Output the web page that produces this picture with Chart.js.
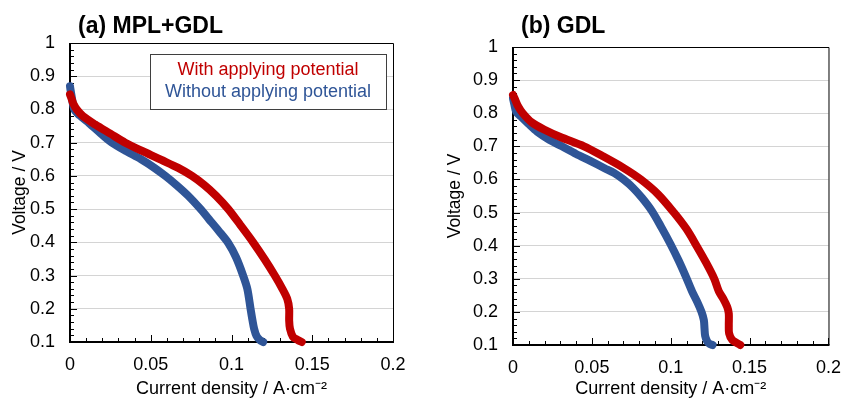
<!DOCTYPE html>
<html><head><meta charset="utf-8">
<script src="https://cdn.jsdelivr.net/npm/chart.js@4.4.1/dist/chart.umd.min.js"></script>
<style>
html,body{margin:0;padding:0;background:#fff;overflow:hidden}
#wrap{position:relative;width:853px;height:398px;background:#fff}
canvas{position:absolute;top:0}
</style></head><body>
<div id="wrap">
<canvas id="ca" width="426" height="398" style="left:0"></canvas>
<canvas id="cb" width="427" height="398" style="left:426px"></canvas>
</div>
<script>
// ---------- data ----------
const seriesNames = ['With applying potential', 'Without applying potential'];
const panelTitles = ['(a) MPL+GDL', '(b) GDL'];
const xTickLabels = ['0', '0.05', '0.1', '0.15', '0.2'];
const yTickLabels = ['0.1', '0.2', '0.3', '0.4', '0.5', '0.6', '0.7', '0.8', '0.9', '1'];
const xTitle = 'Current density / A·cm⁻²';
const yTitle = 'Voltage / V';

// Panel (a) MPL+GDL
const aWithI = [0, 0.001, 0.002, 0.0042, 0.008, 0.0155, 0.025, 0.0342, 0.046, 0.0566, 0.067, 0.0755, 0.083, 0.0905, 0.098, 0.1055, 0.1134, 0.1205, 0.1268, 0.1315, 0.1345, 0.1357, 0.1357, 0.1362, 0.138, 0.141, 0.1435];
const aWithV = [0.845, 0.832, 0.818, 0.8, 0.78, 0.755, 0.727, 0.7, 0.672, 0.648, 0.624, 0.6, 0.573, 0.54, 0.5, 0.452, 0.4, 0.349, 0.3, 0.26, 0.23, 0.2, 0.165, 0.14, 0.116, 0.106, 0.1];
const aWithoutI = [0, 0.0003, 0.001, 0.0027, 0.006, 0.012, 0.019, 0.026, 0.035, 0.044, 0.052, 0.059, 0.066, 0.073, 0.0805, 0.086, 0.092, 0.098, 0.1028, 0.1072, 0.1098, 0.1118, 0.113, 0.114, 0.1155, 0.1175, 0.1196];
const aWithoutV = [0.87, 0.86, 0.84, 0.8, 0.782, 0.758, 0.728, 0.7, 0.674, 0.65, 0.625, 0.6, 0.572, 0.541, 0.502, 0.47, 0.435, 0.398, 0.355, 0.3, 0.26, 0.2, 0.165, 0.14, 0.118, 0.106, 0.1];

// Panel (b) GDL
const bWithI = [0, 0.001, 0.003, 0.0062, 0.012, 0.02, 0.03, 0.045, 0.057, 0.07, 0.081, 0.092, 0.102, 0.11, 0.1163, 0.1225, 0.1276, 0.1305, 0.1335, 0.1358, 0.1368, 0.1368, 0.137, 0.139, 0.1441];
const bWithV = [0.855, 0.845, 0.823, 0.8, 0.772, 0.75, 0.728, 0.7, 0.67, 0.635, 0.6, 0.555, 0.5, 0.45, 0.4, 0.348, 0.3, 0.262, 0.238, 0.215, 0.195, 0.16, 0.135, 0.115, 0.1];
const bWithoutI = [0, 0.0008, 0.002, 0.005, 0.01, 0.0154, 0.023, 0.031, 0.04, 0.049, 0.058, 0.064, 0.07, 0.076, 0.082, 0.088, 0.094, 0.0998, 0.105, 0.1097, 0.1135, 0.117, 0.1195, 0.121, 0.1214, 0.1218, 0.123, 0.1245, 0.1265];
const bWithoutV = [0.845, 0.828, 0.805, 0.79, 0.767, 0.744, 0.72, 0.7, 0.677, 0.656, 0.634, 0.62, 0.6, 0.575, 0.543, 0.505, 0.456, 0.405, 0.355, 0.305, 0.262, 0.228, 0.2, 0.175, 0.15, 0.128, 0.112, 0.104, 0.1];

// ---------- styling ----------
const RED = '#C00000';
const BLUE = '#2F5597';
const FONT = "'Liberation Sans', Arial, sans-serif";

function pts(xs, ys) { return xs.map((x, i) => ({ x: x, y: ys[i] })); }

function labelFor(list, v) {
  const f = list.find(l => Math.abs(parseFloat(l) - v) < 1e-6);
  return f === undefined ? '' : f;
}

const framePlugin = {
  id: 'frame',
  beforeDatasetsDraw(chart) {
    const { ctx, chartArea: a, scales: { x, y } } = chart;
    ctx.save();
    ctx.strokeStyle = '#000';
    ctx.lineWidth = 1;
    ctx.beginPath();
    for (let k = 0; k <= 20; k++) {
      const px = Math.round(x.getPixelForValue(k * 0.01)) + 0.5;
      const len = (k % 5 === 0) ? 7 : 4;
      ctx.moveTo(px, a.bottom);
      ctx.lineTo(px, a.bottom - len);
    }
    for (let k = 0; k <= 45; k++) {
      const py = Math.round(y.getPixelForValue(0.1 + k * 0.02)) + 0.5;
      const len = (k % 5 === 0) ? 7 : 4;
      ctx.moveTo(a.left, py);
      ctx.lineTo(a.left + len, py);
    }
    ctx.stroke();
    // top & right border
    ctx.beginPath();
    ctx.moveTo(a.left, a.top + 0.5);
    ctx.lineTo(a.right + 0.5, a.top + 0.5);
    ctx.lineTo(a.right + 0.5, a.bottom);
    ctx.stroke();
    // left & bottom axis
    ctx.lineWidth = 2;
    ctx.beginPath();
    ctx.moveTo(a.left, a.top);
    ctx.lineTo(a.left, a.bottom);
    ctx.lineTo(a.right + 1, a.bottom);
    ctx.stroke();
    ctx.restore();
  },
  afterDraw(chart, args, opts) {
    const { ctx, chartArea: a } = chart;
    ctx.save();
    ctx.fillStyle = '#000';
    ctx.font = 'bold 23px ' + FONT;
    ctx.textAlign = 'left';
    ctx.textBaseline = 'middle';
    ctx.fillText(opts.title, a.left + 8, 26.5);
    if (opts.legend) {
      const bx = a.left + 80, by = a.top + 11, bw = 236, bh = 55;
      ctx.fillStyle = '#fff';
      ctx.fillRect(bx, by, bw, bh);
      ctx.strokeStyle = '#3f3f3f';
      ctx.lineWidth = 1;
      ctx.strokeRect(bx + 0.5, by + 0.5, bw, bh);
      ctx.font = '18px ' + FONT;
      ctx.textAlign = 'center';
      chart.data.datasets.forEach((ds, i) => {
        ctx.fillStyle = ds.borderColor;
        ctx.fillText(ds.label, bx + bw / 2, by + 16 + i * 22.5);
      });
    }
    ctx.restore();
  }
};

function makeChart(id, withPts, withoutPts, cfg) {
  return new Chart(document.getElementById(id), {
    type: 'scatter',
    data: {
      datasets: [
        { label: seriesNames[0], data: withPts, borderColor: RED, backgroundColor: RED },
        { label: seriesNames[1], data: withoutPts, borderColor: BLUE, backgroundColor: BLUE }
      ]
    },
    options: {
      responsive: false,
      animation: false,
      events: [],
      datasets: {
        scatter: {
          showLine: true, borderWidth: 8, pointRadius: 0, tension: 0.3,
          borderCapStyle: 'round', borderJoinStyle: 'round', clip: false
        }
      },
      layout: { padding: { top: cfg.top, right: cfg.right, left: 0, bottom: 0 } },
      plugins: {
        legend: { display: false },
        tooltip: { enabled: false },
        frame: { title: cfg.title, legend: cfg.legend }
      },
      scales: {
        x: {
          type: 'linear', min: 0, max: 0.2,
          afterFit: s => { s.height = cfg.xh; },
          grid: { display: false, drawTicks: false },
          border: { display: false },
          ticks: {
            stepSize: 0.05, maxRotation: 0, autoSkip: false, padding: 12,
            color: '#000', font: { family: FONT, size: 18 },
            callback: v => labelFor(xTickLabels, v)
          },
          title: {
            display: true, text: xTitle, color: '#000',
            font: { family: FONT, size: 18, lineHeight: 1 }, padding: { top: 0, bottom: 0 }
          }
        },
        y: {
          type: 'linear', min: 0.1, max: 1,
          afterFit: s => { s.width = cfg.yw; },
          grid: { color: '#d4d4d4', lineWidth: 1, drawTicks: false },
          border: { display: false },
          ticks: {
            stepSize: 0.1, autoSkip: false, padding: 15,
            color: '#000', font: { family: FONT, size: 18 },
            callback: v => labelFor(yTickLabels, v)
          },
          title: {
            display: true, text: yTitle, color: '#000',
            font: { family: FONT, size: 17.5, lineHeight: 1 }, padding: { top: cfg.ytp, bottom: 0 }
          }
        }
      }
    },
    plugins: [framePlugin]
  });
}

makeChart('ca', pts(aWithI, aWithV), pts(aWithoutI, aWithoutV),
  { title: panelTitles[0], legend: true, top: 43, right: 33, xh: 56, yw: 70, ytp: 11.5 });
makeChart('cb', pts(bWithI, bWithV), pts(bWithoutI, bWithoutV),
  { title: panelTitles[1], legend: false, top: 47, right: 16, xh: 53, yw: 87, ytp: 20.5 });
</script>
</body></html>
